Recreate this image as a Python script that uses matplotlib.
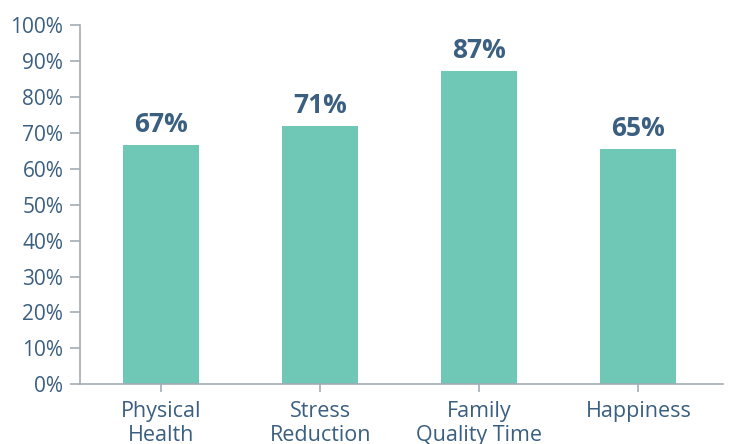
import matplotlib.pyplot as plt

# Chart data
categories = ["Physical\nHealth", "Stress\nReduction", "Family\nQuality Time", "Happiness"]
bar_values = [66.6, 71.9, 87.2, 65.5]
value_labels = ["67%", "71%", "87%", "65%"]
y_ticks = [0, 10, 20, 30, 40, 50, 60, 70, 80, 90, 100]

bar_color = "#6fc8b5"
text_color = "#3b5f80"
axis_color = "#a3abb3"

plt.rcParams["font.family"] = ["Open Sans", "DejaVu Sans"]

fig = plt.figure(figsize=(7.29, 4.44), dpi=100)
ax = fig.add_axes([80 / 729, (444 - 384.3) / 444, (722.7 - 80) / 729, (384.3 - 25) / 444])

x = list(range(len(categories)))
bars = ax.bar(x, bar_values, width=0.478, color=bar_color)

for rect, lab in zip(bars, value_labels):
    ax.annotate(lab, (rect.get_x() + rect.get_width() / 2, rect.get_height()),
                xytext=(0, 5), textcoords="offset points",
                ha="center", va="bottom", fontsize=19, fontweight="bold",
                color=text_color)

ax.set_xlim(-0.51, 3.53)
ax.set_ylim(0, 100)
ax.set_yticks(y_ticks)
ax.set_yticklabels([f"{t}%" for t in y_ticks])
ax.set_xticks(x)
ax.set_xticklabels(categories, linespacing=1.2)

for side in ["top", "right"]:
    ax.spines[side].set_visible(False)
for side in ["left", "bottom"]:
    ax.spines[side].set_color(axis_color)
    ax.spines[side].set_linewidth(1.2)

ax.tick_params(axis="y", length=7, width=1.2, color=axis_color, pad=5,
               labelsize=15, labelcolor=text_color)
ax.tick_params(axis="x", length=6, width=1.2, color=axis_color, pad=6,
               labelsize=15.5, labelcolor=text_color)

fig.savefig("out.png", dpi=100)
